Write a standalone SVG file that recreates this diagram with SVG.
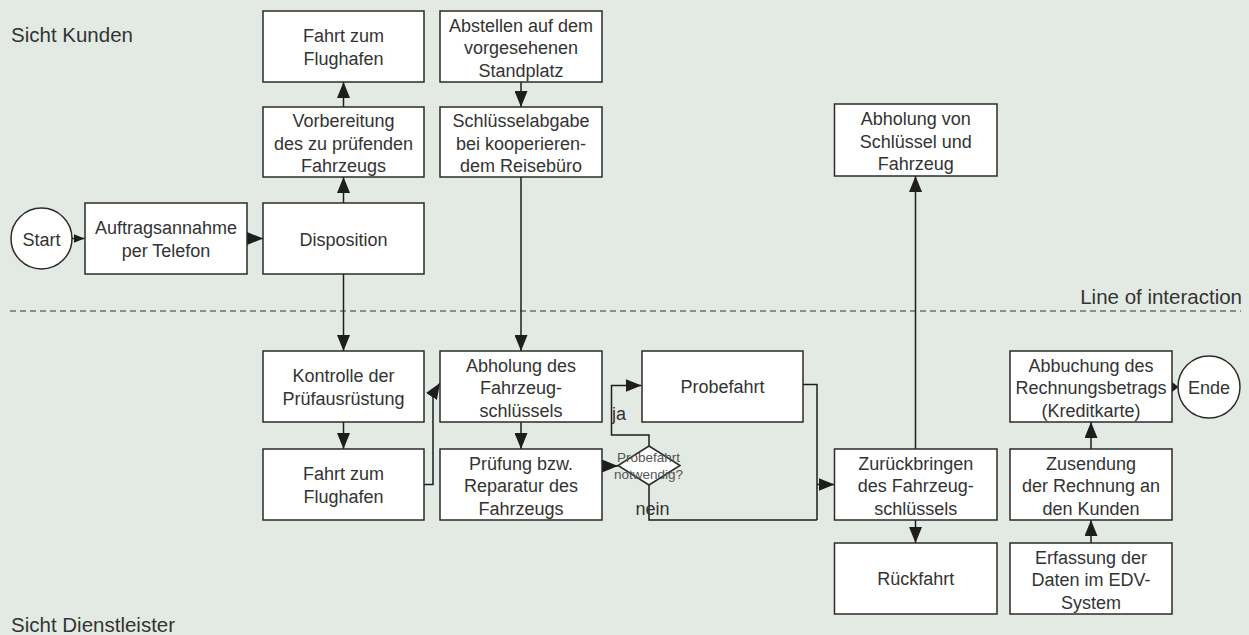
<svg xmlns="http://www.w3.org/2000/svg" width="1249" height="635" viewBox="0 0 1249 635">
  <style>
    .box { fill: #ffffff; stroke: #2b2b2b; stroke-width: 1.5; }
    .t { font-family: "Liberation Sans", Arial, sans-serif; font-size: 18px; fill: #333333; text-anchor: middle; }
    .lbl { font-family: "Liberation Sans", Arial, sans-serif; font-size: 20.5px; fill: #333333; }
    .small { font-family: "Liberation Sans", Arial, sans-serif; font-size: 13.5px; fill: #555555; text-anchor: middle; }
    .c { fill: none; stroke: #1e1e1e; stroke-width: 1.5; }
    .arr { marker-end: url(#ah); }
    .arrs { marker-end: url(#ahs); }
  </style>
  <defs>
    <marker id="ah" markerUnits="userSpaceOnUse" viewBox="0 0 16 13" markerWidth="16" markerHeight="13" refX="16" refY="6.5" orient="auto">
      <path d="M0,0 L16,6.5 L0,13 z" fill="#1e1e1e"/>
    </marker>
    <marker id="ahs" markerUnits="userSpaceOnUse" viewBox="0 0 11 9" markerWidth="11" markerHeight="9" refX="11" refY="4.5" orient="auto">
      <path d="M0,0 L11,4.5 L0,9 z" fill="#1e1e1e"/>
    </marker>
  </defs>
  <rect x="0" y="0" width="1249" height="635" fill="#e3eae4"/>

  <!-- section labels -->
  <text class="lbl" x="11" y="41.5">Sicht Kunden</text>
  <text class="lbl" x="11" y="632">Sicht Dienstleister</text>
  <text class="lbl" x="1242" y="303.5" text-anchor="end">Line of interaction</text>
  <path d="M10,311 H1241" fill="none" stroke="#333333" stroke-width="1.2" stroke-dasharray="6 4"/>

  <!-- connectors -->
  <g id="connectors">
    <path class="c arrs" d="M72,238.5 H84.5"/>
    <path class="c arr" d="M247,238.5 H263"/>
    <path class="c arr" d="M343.5,203 V177"/>
    <path class="c arr" d="M343.5,107 V82"/>
    <path class="c arr" d="M343.5,274 V351"/>
    <path class="c arr" d="M343.5,422 V449"/>
    <path class="c arr" d="M424,484.5 H433 V394 L440,383"/>
    <path class="c arr" d="M521,82 V107"/>
    <path class="c arr" d="M521,177 V351"/>
    <path class="c arr" d="M521,422 V449"/>
    <path class="c arr" d="M602,466 H618"/>
    <path class="c arr" d="M649,446 V435 H611.5 V385.5 H641.5"/>
    <path class="c" d="M649,485 V520 H817"/>
    <path class="c" d="M803,384.5 H817 V520"/>
    <path class="c arr" d="M817,484.5 H834.5"/>
    <path class="c arr" d="M915.5,449 V176"/>
    <path class="c arr" d="M915.5,520 V543"/>
    <path class="c arr" d="M1091,543 V520"/>
    <path class="c arr" d="M1091,449 V422"/>
    <polygon points="1171.5,381.5 1178.5,387 1171.5,392.5" fill="#1e1e1e"/>
    <text class="t" x="619" y="420" text-anchor="start">ja</text>
    <text class="t" x="652.5" y="515" text-anchor="start">nein</text>
  </g>

  <g id="start">
    <circle cx="41.5" cy="238.5" r="30.5" class="box"/>
    <text class="t" x="41.5" y="245.5">Start</text>
  </g>
  <g id="auftragsannahme">
    <rect class="box" x="85" y="203" width="162" height="71"/>
    <text class="t" x="166" y="234">Auftragsannahme</text>
    <text class="t" x="166" y="256.5">per Telefon</text>
  </g>
  <g id="fahrt-flughafen-kunde">
    <rect class="box" x="263" y="11" width="161" height="71"/>
    <text class="t" x="343.5" y="42">Fahrt zum</text>
    <text class="t" x="343.5" y="64.5">Flughafen</text>
  </g>
  <g id="vorbereitung">
    <rect class="box" x="263" y="107" width="161" height="70"/>
    <text class="t" x="343.5" y="127">Vorbereitung</text>
    <text class="t" x="343.5" y="149.5">des zu prüfenden</text>
    <text class="t" x="343.5" y="172">Fahrzeugs</text>
  </g>
  <g id="disposition">
    <rect class="box" x="263" y="203" width="161" height="71"/>
    <text class="t" x="343.5" y="245.5">Disposition</text>
  </g>
  <g id="abstellen">
    <rect class="box" x="440" y="11" width="162" height="71"/>
    <text class="t" x="521" y="31.5">Abstellen auf dem</text>
    <text class="t" x="521" y="54">vorgesehenen</text>
    <text class="t" x="521" y="76.5">Standplatz</text>
  </g>
  <g id="schluesselabgabe">
    <rect class="box" x="440" y="107" width="162" height="70"/>
    <text class="t" x="521" y="127">Schlüsselabgabe</text>
    <text class="t" x="521" y="149.5">bei kooperieren-</text>
    <text class="t" x="521" y="172">dem Reisebüro</text>
  </g>
  <g id="kontrolle">
    <rect class="box" x="263" y="351" width="161" height="71"/>
    <text class="t" x="343.5" y="382">Kontrolle der</text>
    <text class="t" x="343.5" y="404.5">Prüfausrüstung</text>
  </g>
  <g id="fahrt-flughafen-dienst">
    <rect class="box" x="263" y="449" width="161" height="71"/>
    <text class="t" x="343.5" y="480">Fahrt zum</text>
    <text class="t" x="343.5" y="502.5">Flughafen</text>
  </g>
  <g id="abholung-schluessel">
    <rect class="box" x="440" y="351" width="162" height="71"/>
    <text class="t" x="521" y="371.5">Abholung des</text>
    <text class="t" x="521" y="394">Fahrzeug-</text>
    <text class="t" x="521" y="416.5">schlüssels</text>
  </g>
  <g id="pruefung">
    <rect class="box" x="440" y="449" width="162" height="71"/>
    <text class="t" x="521" y="469.5">Prüfung bzw.</text>
    <text class="t" x="521" y="492">Reparatur des</text>
    <text class="t" x="521" y="514.5">Fahrzeugs</text>
  </g>
  <g id="entscheidung">
    <polygon class="box" points="649,446 680,465.5 649,485 618,465.5"/>
    <text class="small" x="648.5" y="461.5">Probefahrt</text>
    <text class="small" x="648.5" y="478.5">notwendig?</text>
  </g>
  <g id="probefahrt">
    <rect class="box" x="642" y="351" width="161" height="71"/>
    <text class="t" x="722.5" y="393">Probefahrt</text>
  </g>
  <g id="abholung-fahrzeug">
    <rect class="box" x="834.5" y="104" width="162.5" height="72"/>
    <text class="t" x="915.75" y="125">Abholung von</text>
    <text class="t" x="915.75" y="147.5">Schlüssel und</text>
    <text class="t" x="915.75" y="170">Fahrzeug</text>
  </g>
  <g id="zurueckbringen">
    <rect class="box" x="834.5" y="449" width="162.5" height="71"/>
    <text class="t" x="915.75" y="469.5">Zurückbringen</text>
    <text class="t" x="915.75" y="492">des Fahrzeug-</text>
    <text class="t" x="915.75" y="514.5">schlüssels</text>
  </g>
  <g id="rueckfahrt">
    <rect class="box" x="834.5" y="543" width="162.5" height="71"/>
    <text class="t" x="915.75" y="585">Rückfahrt</text>
  </g>
  <g id="abbuchung">
    <rect class="box" x="1010" y="351" width="162" height="71"/>
    <text class="t" x="1091" y="371.5">Abbuchung des</text>
    <text class="t" x="1091" y="394">Rechnungsbetrags</text>
    <text class="t" x="1091" y="416.5">(Kreditkarte)</text>
  </g>
  <g id="zusendung">
    <rect class="box" x="1010" y="449" width="162" height="71"/>
    <text class="t" x="1091" y="469.5">Zusendung</text>
    <text class="t" x="1091" y="492">der Rechnung an</text>
    <text class="t" x="1091" y="514.5">den Kunden</text>
  </g>
  <g id="erfassung">
    <rect class="box" x="1010" y="543" width="162" height="71"/>
    <text class="t" x="1091" y="563.5">Erfassung der</text>
    <text class="t" x="1091" y="586">Daten im EDV-</text>
    <text class="t" x="1091" y="608.5">System</text>
  </g>
  <g id="ende">
    <circle cx="1209" cy="387" r="31" class="box"/>
    <text class="t" x="1209" y="394">Ende</text>
  </g>
</svg>
